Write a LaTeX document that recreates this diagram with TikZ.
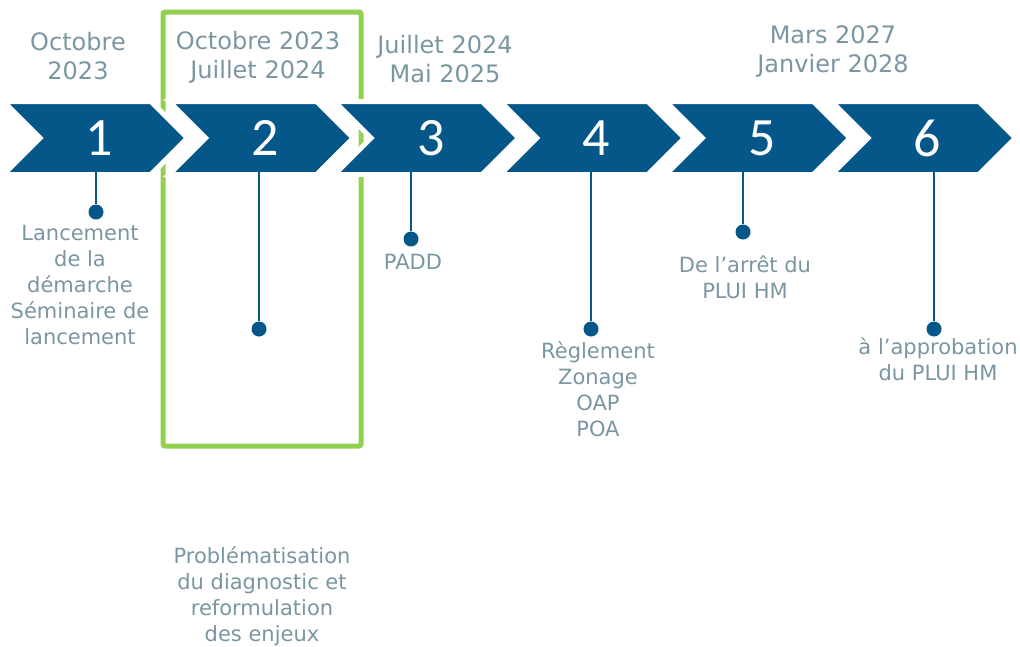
\documentclass[tikz,border=0pt]{standalone}
\usepackage{fontspec}
\setmainfont{DejaVu Sans}
\newfontfamily\numfont{Carlito}
\usetikzlibrary{shapes.symbols}
\definecolor{planblue}{HTML}{05578A}
\definecolor{plangrey}{HTML}{7A96A2}
\definecolor{plangreen}{HTML}{92D050}

\begin{document}
\begin{tikzpicture}[x=1pt, y=-1pt,
	chev/.style={signal, signal from=west, signal to=east, signal pointer angle=90,
		minimum width=184pt, minimum height=73pt, inner sep=0pt, outer sep=0pt,
		fill=planblue, draw=white, line width=5pt,
		text=white, font=\numfont\fontsize{54}{54}\selectfont},
	dot/.style={circle, fill=planblue, inner sep=0pt, minimum size=15pt},
	stem/.style={planblue, line width=2pt, shorten >=-2.5pt},
	datelbl/.style={align=center, text=plangrey, inner sep=0pt, font=\fontsize{24}{29}\selectfont},
	steplbl/.style={align=center, text=plangrey, inner sep=0pt, font=\fontsize{21}{26}\selectfont}]
	\useasboundingbox (0,0) rectangle (1020,646);

	% phase en cours
	\draw[plangreen, line width=5pt, rounded corners=2pt] (163,12) rectangle (361,446);

	\node[chev](c1) at (95.5,138) {\hspace{8pt}1};
	\node[chev](c2) at (261.1,138) {\hspace{8pt}2};
	\node[chev](c3) at (426.7,138) {\hspace{8pt}3};
	\node[chev](c4) at (592.3,138) {\hspace{8pt}4};
	\node[chev](c5) at (757.9,138) {\hspace{8pt}5};
	\node[chev](c6) at (923.5,138) {\hspace{8pt}6};

	\node[dot](d1) at (96,212) {};
	\node[dot](d2) at (259,329) {};
	\node[dot](d3) at (411,239) {};
	\node[dot](d4) at (591,329) {};
	\node[dot](d5) at (743,232) {};
	\node[dot](d6) at (934,329) {};

	\draw[stem](d1) -- (d1 |- c1.south);
	\draw[stem](d2) -- (d2 |- c2.south);
	\draw[stem](d3) -- (d3 |- c3.south);
	\draw[stem](d4) -- (d4 |- c4.south);
	\draw[stem](d5) -- (d5 |- c5.south);
	\draw[stem](d6) -- (d6 |- c6.south);

	% dates
	\node[datelbl](t1) at (78,56.5) {Octobre\\2023};
	\node[datelbl](t2) at (258,57.5) {Octobre 2023\\Juillet 2024};
	\node[datelbl](t3) at (445,59.5) {Juillet 2024\\Mai 2025};
	\node[datelbl](t5) at (833,51.5) {Mars 2027\\Janvier 2028};

	% etapes
	\node[steplbl](l1) at (80,284.5) {Lancement\\de la\\démarche\\Séminaire de\\lancement};
	\node[steplbl](l2) at (262,596) {Problématisation\\du diagnostic et\\reformulation\\des enjeux};
	\node[steplbl](l3) at (413,262) {PADD};
	\node[steplbl](l4) at (598,389.5) {Règlement\\Zonage\\OAP\\POA};
	\node[steplbl](l5) at (745,277) {De l’arrêt du\\PLUI HM};
	\node[steplbl](l6) at (938,359) {à l’approbation\\du PLUI HM};
\end{tikzpicture}
\end{document}
